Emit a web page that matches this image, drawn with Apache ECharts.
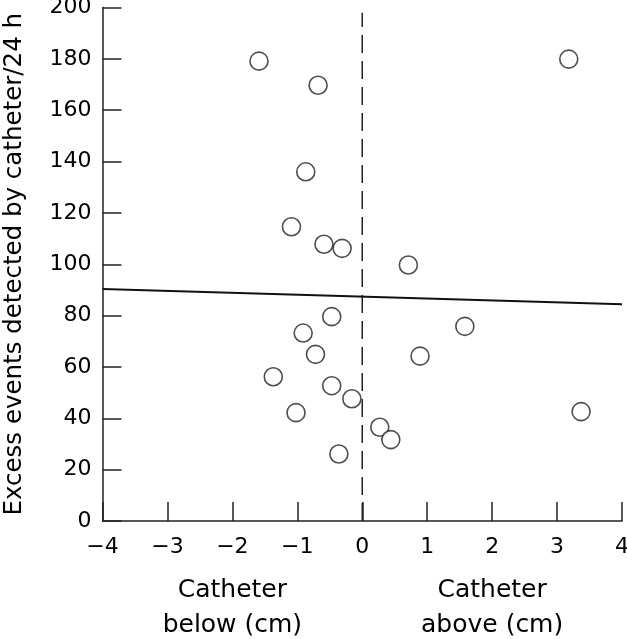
<!DOCTYPE html>
<html>
<head>
<meta charset="utf-8">
<script src="https://cdn.jsdelivr.net/npm/echarts@6/dist/echarts.min.js"></script>
<style>
html,body{margin:0;padding:0;background:#fff;}
#chart{width:627px;height:639px;}
</style>
</head>
<body>
<div id="chart"></div>
<script>
// Distance of catheter relative to reference (cm)
const xValues = [-1.59, -0.68, -0.87, -1.09, -0.59, -0.31, 3.18, 0.71,
  -0.47, -0.91, -0.72, -1.37, -0.47, -0.16, -1.02, -0.36,
  1.58, 0.89, 3.37, 0.27, 0.44];
// Excess events detected by catheter per 24 h
const yValues = [179.1, 169.7, 136, 114.6, 107.8, 106.2, 179.9, 99.7,
  79.6, 73.2, 64.9, 56.2, 52.7, 47.6, 42.2, 26.1,
  75.8, 64.2, 42.6, 36.5, 31.7];
// Regression line endpoints
const fitX = [-4, 4];
const fitY = [90.4, 84.4];
// Vertical reference at zero
const refX = [0, 0];
const refY = [0, 198];
const xTicks = [-4, -3, -2, -1, 0, 1, 2, 3, 4];
const yTicks = [0, 20, 40, 60, 80, 100, 120, 140, 160, 180, 200];
const yTitle = 'Excess events detected by catheter/24 h';
const leftLabel = ['Catheter', 'below (cm)'];
const rightLabel = ['Catheter', 'above (cm)'];
const leftLabelAt = -2;
const rightLabelAt = 2;

const FONT = 'DejaVu Sans';
const INK = '#222';

const points = xValues.map((x, i) => [x, yValues[i]]);
const fit = fitX.map((x, i) => [x, fitY[i]]);
const ref = refX.map((x, i) => [x, refY[i]]);

const chart = echarts.init(document.getElementById('chart'));
const option = {
  animation: false,
  backgroundColor: '#fff',
  grid: {left: 102.5, right: 5, top: 7.5, bottom: 118, containLabel: false, outerBoundsMode: 'none'},
  xAxis: {
    type: 'value', min: xTicks[0], max: xTicks[xTicks.length - 1], interval: 1,
    splitLine: {show: false},
    axisLine: {onZero: false, lineStyle: {color: INK, width: 1.5}},
    axisTick: {inside: true, length: 19, lineStyle: {color: INK, width: 1.5}},
    axisLabel: {
      color: '#000', fontFamily: FONT, fontSize: 22, margin: 15,
      formatter: v => (v < 0 ? '\u2212' + Math.abs(v) : String(v))
    }
  },
  yAxis: {
    type: 'value', min: yTicks[0], max: yTicks[yTicks.length - 1], interval: 20,
    splitLine: {show: false},
    axisLine: {onZero: false, lineStyle: {color: INK, width: 1.5}},
    axisTick: {inside: true, length: 19, lineStyle: {color: INK, width: 1.5}},
    axisLabel: {color: '#000', fontFamily: FONT, fontSize: 22, margin: 11},
    name: yTitle,
    nameLocation: 'middle',
    nameGap: 75,
    nameTextStyle: {color: '#000', fontFamily: FONT, fontSize: 24.5}
  },
  series: [
    {
      type: 'line', data: ref, symbol: 'none', silent: true,
      lineStyle: {color: INK, width: 1.5, type: [18, 8]}
    },
    {
      type: 'line', data: fit, symbol: 'none', silent: true,
      lineStyle: {color: '#111', width: 2}
    },
    {
      type: 'scatter', data: points, symbol: 'circle', symbolSize: 18,
      itemStyle: {color: '#fff', borderColor: INK, borderWidth: 1.6}
    }
  ]
};
chart.setOption(option);

const lx = chart.convertToPixel({xAxisIndex: 0}, leftLabelAt);
const rx = chart.convertToPixel({xAxisIndex: 0}, rightLabelAt);
const labelStyle = (t) => ({text: t.join('\n'), fill: '#000', font: '25px "' + FONT + '"', align: 'center', verticalAlign: 'top', lineHeight: 35});
chart.setOption({
  graphic: [
    {type: 'text', x: lx, y: 573, style: labelStyle(leftLabel)},
    {type: 'text', x: rx, y: 573, style: labelStyle(rightLabel)}
  ]
});
</script>
</body>
</html>
